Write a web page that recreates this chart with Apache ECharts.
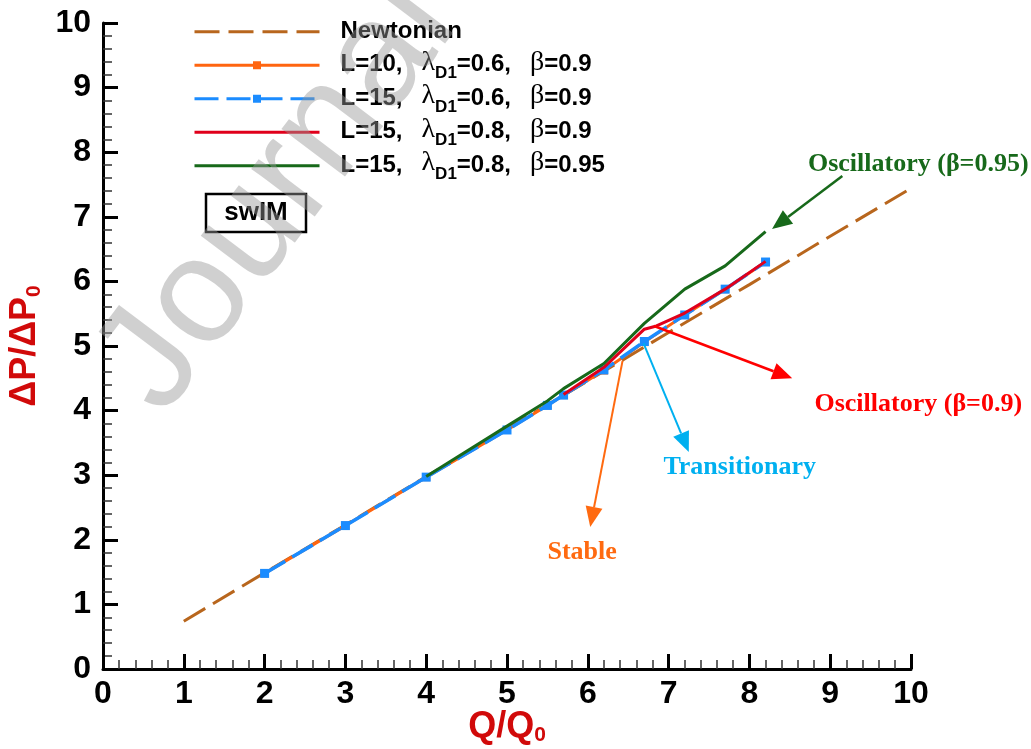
<!DOCTYPE html>
<html>
<head>
<meta charset="utf-8">
<script src="https://cdn.jsdelivr.net/npm/echarts@6/dist/echarts.min.js"></script>
<style>
html, body { margin: 0; padding: 0; background: #ffffff; }
#chart { width: 1031px; height: 749px; }
</style>
</head>
<body>
<div id="chart"></div>
<script>
// ---- data ----
const seriesNames = [
  'Newtonian',
  'L=10, λD1=0.6, β=0.9',
  'L=15, λD1=0.6, β=0.9',
  'L=15, λD1=0.8, β=0.9',
  'L=15, λD1=0.8, β=0.95'
];

const newtonianQ = [1, 2, 3, 4, 5, 6, 7, 8, 9, 10];
const newtonianP = [0.74, 1.49, 2.23, 2.98, 3.72, 4.46, 5.21, 5.95, 6.70, 7.44];

const l10Q = [2, 3, 4, 5, 5.5, 5.7, 6.2, 6.7, 7.2, 7.7, 8.2];
const l10P = [1.48, 2.22, 2.97, 3.70, 4.08, 4.24, 4.62, 5.06, 5.48, 5.88, 6.30];

const l15aQ = [2, 3, 4, 5, 5.5, 5.7, 6.2, 6.7, 7.2, 7.7, 8.2];
const l15aP = [1.48, 2.22, 2.97, 3.70, 4.08, 4.24, 4.63, 5.07, 5.48, 5.88, 6.30];

const l15bQ = [5.7, 6.2, 6.7, 6.85, 7.2, 7.7, 8.2];
const l15bP = [4.25, 4.67, 5.26, 5.31, 5.51, 5.88, 6.31];

const l15cQ = [4, 5, 5.5, 5.7, 6.2, 6.7, 7.2, 7.7, 8.2];
const l15cP = [2.98, 3.76, 4.15, 4.34, 4.73, 5.35, 5.88, 6.24, 6.77];

// regime notes: arrow tail, arrow head and text anchor, in axis units
const noteLabels = ['Oscillatory (β=0.95)', 'Oscillatory (β=0.9)', 'Transitionary', 'Stable'];
const noteTail = [[9.15, 7.63], [6.82, 5.31], [6.69, 5.04], [6.43, 4.77]];
const noteHead = [[8.28, 6.81], [8.53, 4.50], [7.25, 3.36], [6.03, 2.20]];
const noteText = [[10.09, 7.82], [10.09, 4.10], [7.88, 3.13], [5.93, 1.80]];

// ---- styling ----
const colors = ['#b8661d', '#ff6510', '#1b8cff', '#e0001b', '#17691a'];
const noteColors = ['#17691a', '#ff0000', '#00b0f0', '#ff6a10'];
const sansFont = "'Liberation Sans', Arial, 'Helvetica', sans-serif";
const serifFont = "'Liberation Serif', 'Times New Roman', serif";
const nameRed = '#d10a0a';

function pairs(xs, ys) { return xs.map((x, i) => [x, ys[i]]); }

// legend entries: "L=10, λD1=0.6, β=0.9" -> rich text with Greek glyphs and a subscript
function richLegendName(name) {
  if (name.indexOf('λD1') < 0) return '{a|' + name + '}{s| }';
  const parts = name.split(', ');
  return '{a|' + parts[0] + ',}{w| }{g|λ}{s|D1}{a|' + parts[1].slice(3) +
    ',}{w| }{g|β}{a|' + parts[2].slice(1) + '}';
}

const chart = echarts.init(document.getElementById('chart'), null, { renderer: 'canvas' });

const axisCommon = {
  min: 0, max: 10, interval: 1,
  axisLine: { show: true, lineStyle: { color: '#000', width: 3 } },
  axisTick: { show: true, inside: true, length: 15, lineStyle: { color: '#000', width: 3 } },
  minorTick: { show: true, splitNumber: 5, length: 9, lineStyle: { color: '#333', width: 1.5 } },
  splitLine: { show: false },
  axisLabel: { color: '#000', fontFamily: sansFont, fontWeight: 'bold', fontSize: 32 }
};

const legendData = seriesNames.map((n, i) => (i === 1 || i === 2)
  ? { name: n }
  : { name: n, itemStyle: { color: 'rgba(0,0,0,0)', borderWidth: 0 } });

const option = {
  animation: false,
  backgroundColor: '#ffffff',
  grid: { left: 103, right: 120, top: 23, bottom: 80, containLabel: false, outerBoundsMode: 'none' },
  legend: {
    orient: 'vertical',
    left: 193,
    top: 19,
    padding: 0,
    itemWidth: 125,
    itemHeight: 10,
    itemGap: 0,
    data: legendData,
    formatter: richLegendName,
    lineStyle: { width: 3 },
    textStyle: {
      padding: [5.5, 0, 0, 16],
      rich: {
        a: { fontFamily: sansFont, fontWeight: 'bold', fontSize: 24, color: '#000', lineHeight: 28, verticalAlign: 'bottom', padding: [0, 0, 5.5, 0] },
        g: { fontFamily: serifFont, fontWeight: 'normal', fontSize: 28, color: '#000', lineHeight: 28, verticalAlign: 'bottom', padding: [0, 0, 5.5, 0] },
        s: { fontFamily: sansFont, fontWeight: 'bold', fontSize: 17, color: '#000', lineHeight: 16, verticalAlign: 'bottom' },
        w: { width: 19, lineHeight: 28, fontSize: 24, verticalAlign: 'bottom', padding: [0, 0, 5.5, 0] }
      }
    }
  },
  xAxis: Object.assign({}, axisCommon, {
    type: 'value',
    position: 'bottom',
    name: '{a|Q/Q}{s|0}',
    nameLocation: 'middle',
    nameMoveOverlap: false,
    nameGap: 39,
    nameTextStyle: {
      rich: {
        a: { fontFamily: sansFont, fontWeight: 'bold', fontSize: 36, color: nameRed, lineHeight: 38 },
        s: { fontFamily: sansFont, fontWeight: 'bold', fontSize: 21, color: nameRed, lineHeight: 38, verticalAlign: 'bottom', padding: [16, 0, 0, 0] }
      }
    },
    axisLabel: Object.assign({}, axisCommon.axisLabel, { margin: 9 })
  }),
  yAxis: Object.assign({}, axisCommon, {
    type: 'value',
    position: 'left',
    name: '{a|ΔP/ΔP}{s|0}',
    nameLocation: 'middle',
    nameGap: 56,
    nameRotate: 90,
    nameTextStyle: {
      rich: {
        a: { fontFamily: sansFont, fontWeight: 'bold', fontSize: 36, color: nameRed, lineHeight: 38 },
        s: { fontFamily: sansFont, fontWeight: 'bold', fontSize: 21, color: nameRed, lineHeight: 38, verticalAlign: 'bottom', padding: [16, 0, 0, 0] }
      }
    },
    axisLabel: Object.assign({}, axisCommon.axisLabel, { margin: 12 })
  }),
  series: [
    {
      name: seriesNames[0], type: 'line', data: pairs(newtonianQ, newtonianP),
      symbol: 'none', color: colors[0],
      lineStyle: { color: colors[0], width: 3, type: [25, 9] }, z: 2
    },
    {
      name: seriesNames[1], type: 'line', data: pairs(l10Q, l10P),
      symbol: 'rect', symbolSize: 8, showSymbol: true, color: colors[1],
      itemStyle: { color: colors[1] },
      lineStyle: { color: colors[1], width: 3 }, z: 3
    },
    {
      name: seriesNames[2], type: 'line', data: pairs(l15aQ, l15aP),
      symbol: 'rect', symbolSize: 9, showSymbol: true, color: colors[2],
      itemStyle: { color: colors[2] },
      lineStyle: { color: colors[2], width: 3.5, type: [24, 8] }, z: 4
    },
    {
      name: seriesNames[3], type: 'line', data: pairs(l15bQ, l15bP),
      symbol: 'none', color: colors[3],
      lineStyle: { color: colors[3], width: 3 }, z: 5
    },
    {
      name: seriesNames[4], type: 'line', data: pairs(l15cQ, l15cP),
      symbol: 'none', color: colors[4],
      lineStyle: { color: colors[4], width: 3 }, z: 6
    }
  ]
};

chart.setOption(option);

// ---- arrows, notes, tag box and watermark ----
function toPx(p) { return chart.convertToPixel({ gridIndex: 0 }, p); }

const graphics = [];
const arrowLen = 20, arrowHalf = 8.5;
noteLabels.forEach((label, i) => {
  const t = toPx(noteTail[i]);
  const h = toPx(noteHead[i]);
  const dx = h[0] - t[0], dy = h[1] - t[1];
  const len = Math.sqrt(dx * dx + dy * dy);
  const ux = dx / len, uy = dy / len;
  const bx = h[0] - ux * arrowLen, by = h[1] - uy * arrowLen;
  graphics.push({
    type: 'line', z: 20,
    shape: { x1: t[0], y1: t[1], x2: bx, y2: by },
    style: { stroke: noteColors[i], lineWidth: i < 2 ? 2.5 : 2 }
  });
  graphics.push({
    type: 'polygon', z: 20,
    shape: { points: [[h[0], h[1]], [bx - uy * arrowHalf, by + ux * arrowHalf], [bx + uy * arrowHalf, by - ux * arrowHalf]] },
    style: { fill: noteColors[i] }
  });
  const c = toPx(noteText[i]);
  graphics.push({
    type: 'text', z: 20, x: c[0], y: c[1],
    style: {
      text: label, fill: noteColors[i],
      font: 'bold 26px ' + serifFont,
      align: 'center', verticalAlign: 'middle'
    }
  });
});

// model tag box
graphics.push({
  type: 'rect', z: 20,
  shape: { x: 206, y: 194, width: 100, height: 38 },
  style: { fill: '#fff', stroke: '#000', lineWidth: 2.5 }
});
graphics.push({
  type: 'text', z: 21, x: 256, y: 213,
  style: { text: 'swIM', fill: '#000', font: 'bold 26px ' + sansFont, align: 'center', verticalAlign: 'middle' }
});

// journal watermark
graphics.push({
  type: 'text', z: 100, x: 130, y: 393, rotation: 53 * Math.PI / 180,
  style: {
    text: 'Journal Pre-proof', fill: 'rgba(150,150,150,0.45)',
    font: '150px ' + sansFont, align: 'left', verticalAlign: 'middle'
  },
  silent: true
});

chart.setOption({ graphic: graphics });
</script>
</body>
</html>
